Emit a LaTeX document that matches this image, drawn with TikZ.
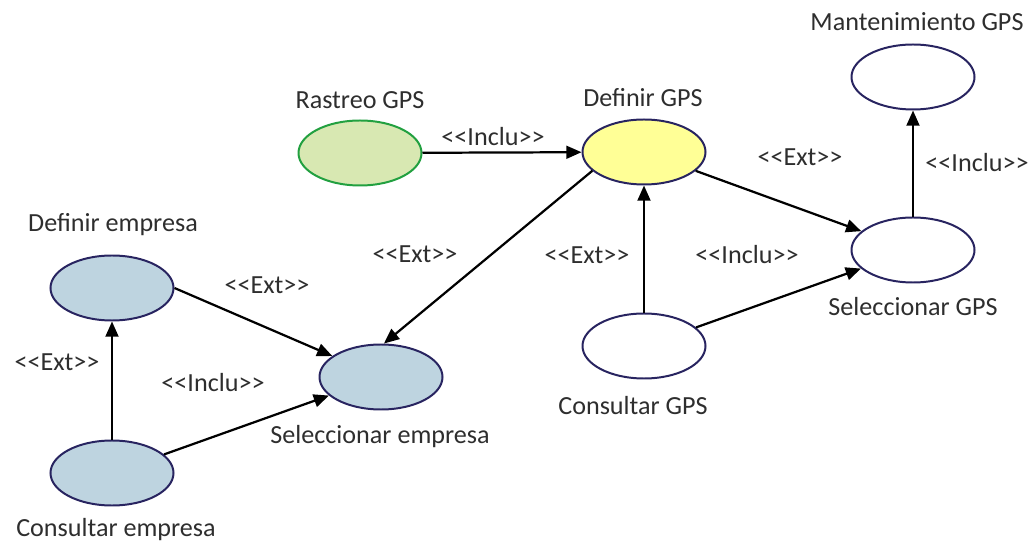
\documentclass[tikz,border=0pt]{standalone}
\usepackage{fontspec}
\setmainfont{Carlito}
\usepackage{tikz}
\usetikzlibrary{arrows.meta, shapes.geometric}

\definecolor{ucline}{RGB}{40,36,96}
\definecolor{ucblue}{RGB}{190,212,224}
\definecolor{ucgreen}{RGB}{216,232,178}
\definecolor{ucgreenline}{RGB}{34,160,64}
\definecolor{ucyellow}{RGB}{255,255,150}

\newcommand{\stereo}[1]{{<}{<}#1{>}{>}}

\begin{document}
\begin{tikzpicture}[x=0.03cm, y=-0.03cm,
        usecase/.style={ellipse, draw=ucline, line width=1.7pt, fill=white,
            minimum width=3.69cm, minimum height=1.95cm},
        txt/.style={font=\fontsize{22.3}{26}\selectfont, text=black!82},
        rel/.style={line width=1.9pt, -{Triangle[length=13pt, width=11pt]}}]
        \useasboundingbox (0,0) rectangle (1035,544);

        % Draw the use cases
            \node[usecase, fill=ucgreen, draw=ucgreenline] (rastreo) at (360,153) {};
            \node[usecase, fill=ucyellow] (defgps) at (644,152) {};
            \node[usecase] (mantgps) at (913,77) {};
            \node[usecase] (selgps) at (913,250) {};
            \node[usecase] (consgps) at (644,346) {};
            \node[usecase, fill=ucblue] (defemp) at (112,288) {};
            \node[usecase, fill=ucblue] (selemp) at (381,377) {};
            \node[usecase, fill=ucblue] (consemp) at (112,473) {};

        % Draw the names
            \node[txt] (trastreo) at (360,100) {Rastreo GPS};
            \node[txt] (tdefgps) at (643,98) {Definir GPS};
            \node[txt] (tmantgps) at (917,22) {Mantenimiento GPS};
            \node[txt] (tselgps) at (913,307) {Seleccionar GPS};
            \node[txt] (tconsgps) at (633,406) {Consultar GPS};
            \node[txt] (tdefemp) at (113,225) {Definir empresa};
            \node[txt] (tselemp) at (380,437) {Seleccionar empresa};
            \node[txt] (tconsemp) at (116,530) {Consultar empresa};

        % Draw the relations
            \draw[rel] (rastreo) -- (defgps);
            \draw[rel] (defgps) -- (selgps);
            \draw[rel] (selgps) -- (mantgps);
            \draw[rel] (consgps) -- (defgps);
            \draw[rel] (consgps) -- (selgps);
            \draw[rel] (defgps.200) -- (selemp.85);
            \draw[rel] (defemp.east) -- (selemp);
            \draw[rel] (consemp) -- (defemp);
            \draw[rel] (consemp) -- (selemp);

        % Draw the stereotypes
            \node[txt] (l1) at (493,137) {\stereo{Inclu}};
            \node[txt] (l2) at (800,157) {\stereo{Ext}};
            \node[txt] (l3) at (977,163) {\stereo{Inclu}};
            \node[txt] (l4) at (415,254) {\stereo{Ext}};
            \node[txt] (l5) at (587,255) {\stereo{Ext}};
            \node[txt] (l6) at (747,255) {\stereo{Inclu}};
            \node[txt] (l7) at (267,285) {\stereo{Ext}};
            \node[txt] (l8) at (57,362) {\stereo{Ext}};
            \node[txt] (l9) at (213,383) {\stereo{Inclu}};
\end{tikzpicture}
\end{document}
